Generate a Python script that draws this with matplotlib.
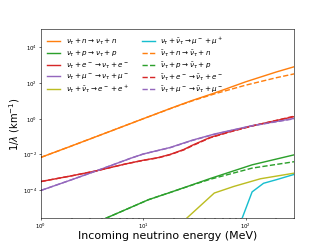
import matplotlib
matplotlib.use("Agg")
import matplotlib.pyplot as plt

# energies (MeV) and inverse mean free paths (1/km)
e_n = [1, 2, 5, 10, 20, 30, 50, 100, 200, 300]
nu_n = [6.8e-3, 3.0e-2, 0.22, 1.0, 4.5, 10.5, 28, 117, 420, 830]
nubar_n = [6.8e-3, 3.0e-2, 0.22, 1.0, 4.4, 10.0, 25, 76, 200, 330]

e_p = [2, 4.2, 11.3, 18.4, 30, 45, 116, 300]
nu_p = [3.2e-7, 2.45e-6, 2.9e-5, 7.4e-5, 1.95e-4, 4.4e-4, 2.6e-3, 9.5e-3]
nubar_p = [3.2e-7, 2.45e-6, 2.9e-5, 7.4e-5, 1.9e-4, 4.0e-4, 1.7e-3, 3.9e-3]

e_e = [1, 2, 3.5, 6.7, 10, 14, 18.4, 25, 30, 45, 70, 116, 300]
nu_e = [3.0e-4, 6.3e-4, 1.2e-3, 2.9e-3, 4.7e-3, 6.6e-3, 1.0e-2, 1.9e-2, 3.2e-2, 8.9e-2, 0.19, 0.40, 1.32]
nubar_e = [3.0e-4, 6.3e-4, 1.2e-3, 2.9e-3, 4.6e-3, 6.4e-3, 9.7e-3, 1.8e-2, 3.0e-2, 8.5e-2, 0.18, 0.39, 1.40]

e_mu = [1, 2, 3.5, 7.5, 10, 18.4, 30, 50, 116, 300]
nu_mu = [9.5e-5, 3.8e-4, 1.2e-3, 6.0e-3, 1.05e-2, 2.45e-2, 6.2e-2, 0.14, 0.41, 1.05]
nubar_mu = [9.5e-5, 3.8e-4, 1.2e-3, 6.0e-3, 1.05e-2, 2.4e-2, 6.0e-2, 0.135, 0.40, 1.0]

e_ee = [20, 49.5, 77, 140, 300]
pair_ee = [5.9e-7, 6.8e-5, 1.6e-4, 4.3e-4, 8.9e-4]

e_mumu = [88, 116, 150, 200, 300]
pair_mumu = [1.2e-6, 7.9e-5, 2.4e-4, 3.8e-4, 7.6e-4]

x_ticks = [1, 10, 100]
y_ticks = [1e-4, 1e-2, 1, 1e2, 1e4]

labels = [
    r"$\nu_\tau + n \rightarrow \nu_\tau + n$",
    r"$\nu_\tau + p \rightarrow \nu_\tau + p$",
    r"$\nu_\tau + e^- \rightarrow \nu_\tau + e^-$",
    r"$\nu_\tau + \mu^- \rightarrow \nu_\tau + \mu^-$",
    r"$\nu_\tau + \bar{\nu}_\tau \rightarrow e^- + e^+$",
    r"$\nu_\tau + \bar{\nu}_\tau \rightarrow \mu^- + \mu^+$",
    r"$\bar{\nu}_\tau + n \rightarrow \bar{\nu}_\tau + n$",
    r"$\bar{\nu}_\tau + p \rightarrow \bar{\nu}_\tau + p$",
    r"$\bar{\nu}_\tau + e^- \rightarrow \bar{\nu}_\tau + e^-$",
    r"$\bar{\nu}_\tau + \mu^- \rightarrow \bar{\nu}_\tau + \mu^-$",
]

fig, ax = plt.subplots(figsize=(6.4, 4.8), dpi=51.1)
lw = 2

ax.plot(e_n, nu_n, color="C1", lw=lw, label=labels[0])
ax.plot(e_p, nu_p, color="C2", lw=lw, label=labels[1])
ax.plot(e_e, nu_e, color="C3", lw=lw, label=labels[2])
ax.plot(e_mu, nu_mu, color="C4", lw=lw, label=labels[3])
ax.plot(e_ee, pair_ee, color="C8", lw=lw, label=labels[4])
ax.plot(e_mumu, pair_mumu, color="C9", lw=lw, label=labels[5])
ax.plot(e_n, nubar_n, color="C1", lw=lw, ls="--", label=labels[6])
ax.plot(e_p, nubar_p, color="C2", lw=lw, ls="--", label=labels[7])
ax.plot(e_e, nubar_e, color="C3", lw=lw, ls="--", label=labels[8])
ax.plot(e_mu, nubar_mu, color="C4", lw=lw, ls="--", label=labels[9])

ax.set_xscale("log")
ax.set_yscale("log")
ax.set_xlim(1, 300)
ax.set_ylim(2.7e-6, 1.06e5)
ax.set_xticks(x_ticks)
ax.set_yticks(y_ticks)
ax.tick_params(labelsize=7.5, pad=1.5)
ax.set_xlabel("Incoming neutrino energy (MeV)", fontsize=15.5, labelpad=0)
ax.set_ylabel(r"1/$\lambda$ (km$^{-1}$)", fontsize=14, labelpad=2)
ax.legend(loc="upper left", ncol=2, fontsize=10, frameon=False,
          labelspacing=0.2, handlelength=1.8, columnspacing=1.8)

fig.savefig("out.png", dpi=51.1)
